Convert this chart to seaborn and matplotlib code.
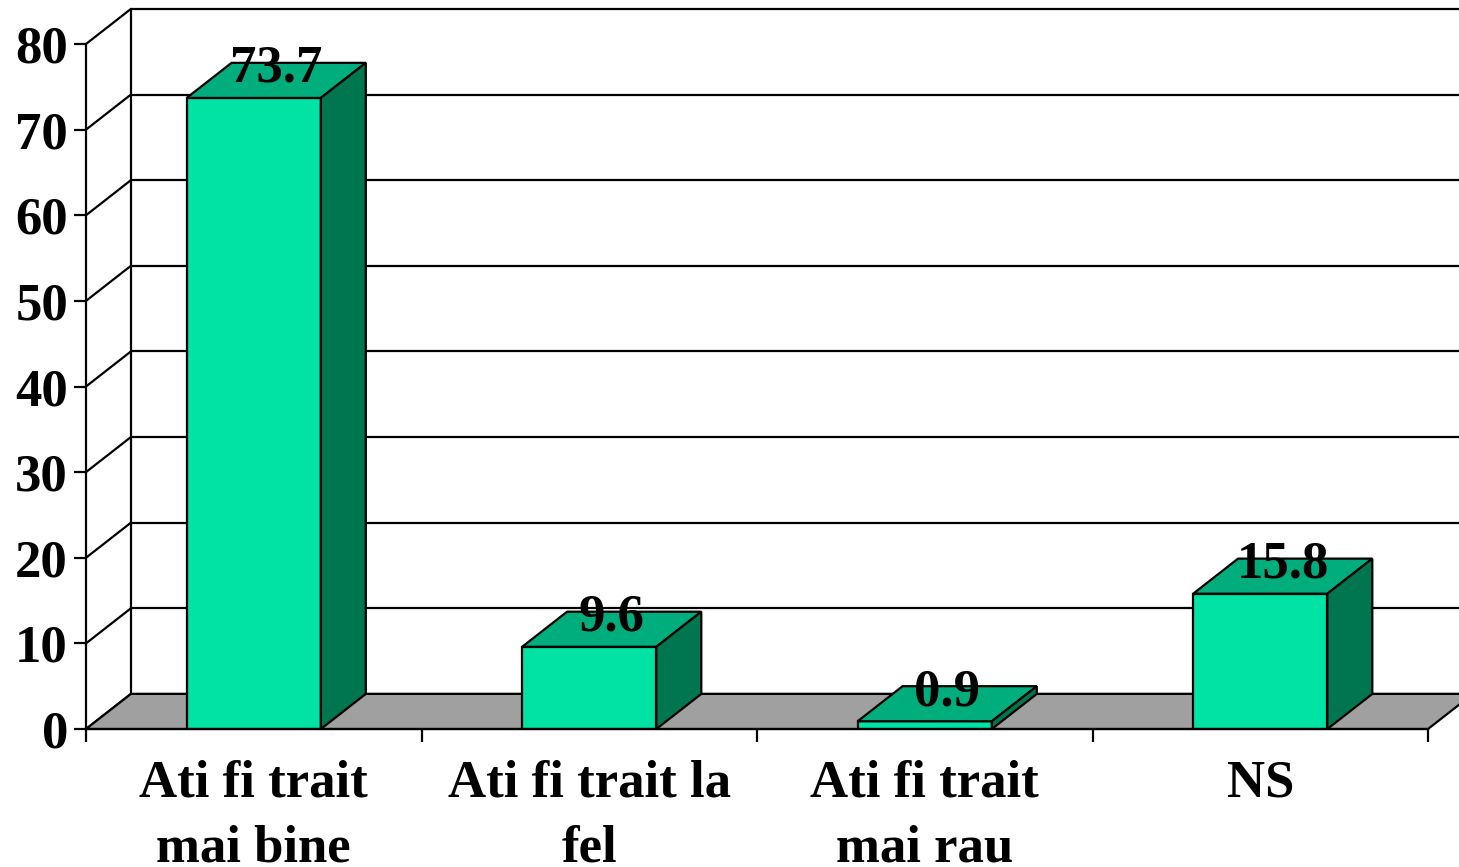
import seaborn as sns
import matplotlib.pyplot as plt
import pandas as pd
from matplotlib.patches import Polygon

# Data
categories = ["Ati fi trait\nmai bine", "Ati fi trait la\nfel", "Ati fi trait\nmai rau", "NS"]
values = [73.7, 9.6, 0.9, 15.8]
y_ticks = [0, 10, 20, 30, 40, 50, 60, 70, 80]

data = pd.DataFrame({"Raspuns": categories, "Procent": values})

# Excel-like 3D look
front_color = "#00E3A5"
top_color = "#00AD7D"
side_color = "#007650"
floor_color = "#A0A0A0"
DX, DY = 0.134, 4.1   # depth offset in data units
bar_w = 0.4
fs = 38

sns.set_style("white")
plt.rcParams["font.family"] = ["Liberation Serif", "DejaVu Serif"]
plt.rcParams["text.color"] = "black"
plt.rcParams["xtick.color"] = "black"
plt.rcParams["ytick.color"] = "black"

fig = plt.figure(figsize=(14.59, 8.67), dpi=100)
ax = fig.add_axes([86 / 1459, (867 - 729) / 867, (1428 - 86) / 1459, (729 - 44) / 867])

# back wall gridlines and left diagonals
for v in y_ticks:
    ax.plot([-0.5 + DX, 4.0], [v + DY, v + DY], color="black", lw=1.6, zorder=0.5, clip_on=False)
    ax.plot([-0.5, -0.5 + DX], [v, v + DY], color="black", lw=1.6, zorder=0.5, clip_on=False)
ax.plot([-0.5 + DX, -0.5 + DX], [DY, 80 + DY], color="black", lw=1.6, zorder=0.5, clip_on=False)

# floor
ax.add_patch(Polygon([(-0.5, 0), (3.5, 0), (3.5 + DX, DY), (-0.5 + DX, DY)],
                     closed=True, facecolor=floor_color, edgecolor="black", lw=1.6,
                     zorder=0.6, clip_on=False))

# front faces through seaborn
sns.barplot(data=data, x="Raspuns", y="Procent", color=front_color, width=bar_w,
            edgecolor="black", linewidth=1.6, saturation=1, zorder=3, ax=ax)

# top and side faces, value labels
for i, h in enumerate(values):
    x0, x1 = i - bar_w / 2, i + bar_w / 2
    ax.add_patch(Polygon([(x0, h), (x1, h), (x1 + DX, h + DY), (x0 + DX, h + DY)],
                         closed=True, facecolor=top_color, edgecolor="black", lw=1.6,
                         zorder=3, clip_on=False))
    ax.add_patch(Polygon([(x1, 0), (x1 + DX, DY), (x1 + DX, h + DY), (x1, h)],
                         closed=True, facecolor=side_color, edgecolor="black", lw=1.6,
                         zorder=3, clip_on=False))
    ax.text(i + DX / 2, h + DY - 0.7, f"{h:.1f}", ha="center", va="center",
            fontsize=fs, fontweight="bold", color="black", zorder=4, clip_on=False)

ax.set_xlim(-0.5, 3.5)
ax.set_ylim(0, 80)
ax.set_yticks(y_ticks)
ax.set_xticks([0, 1, 2, 3])
ax.set_xticks([-0.5, 0.5, 1.5, 2.5, 3.5], minor=True)
ax.set_xticklabels(categories, fontsize=fs, fontweight="bold", linespacing=1.45)
ax.set_xlabel("")
ax.set_ylabel("")
for lab in ax.get_yticklabels():
    lab.set_fontsize(fs)
    lab.set_fontweight("bold")

ax.tick_params(axis="x", which="major", length=0, pad=22)
ax.tick_params(axis="x", which="minor", length=9, width=1.6, direction="out", bottom=True)
ax.tick_params(axis="y", length=9, width=1.6, direction="out", left=True, pad=4)

for side in ["top", "right"]:
    ax.spines[side].set_visible(False)
for side in ["left", "bottom"]:
    ax.spines[side].set_linewidth(1.6)
    ax.spines[side].set_color("black")
    ax.spines[side].set_zorder(5)

plt.savefig("out.png", dpi=100)
plt.close()
